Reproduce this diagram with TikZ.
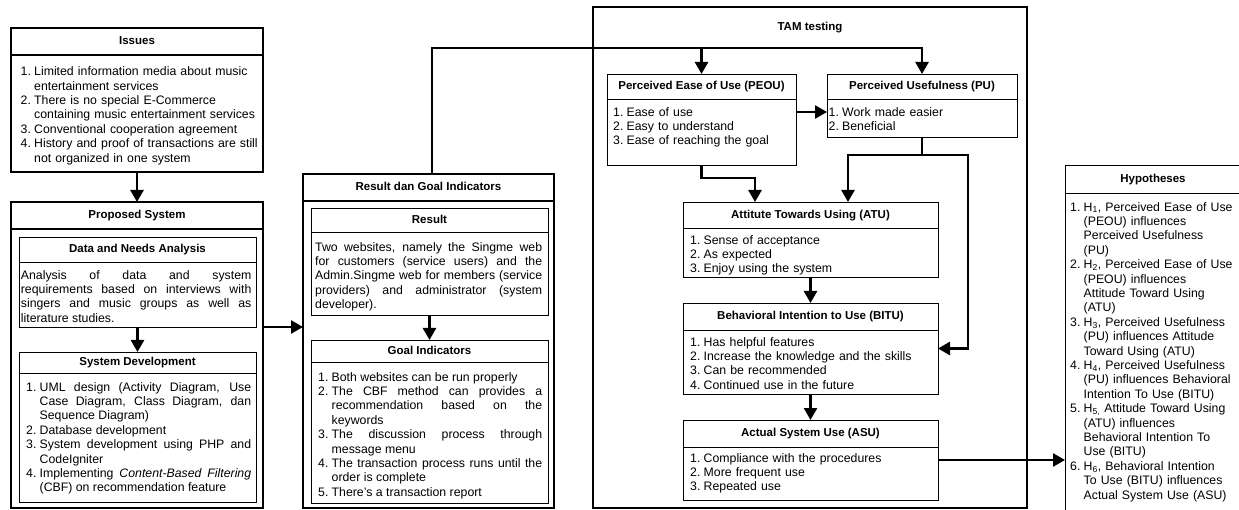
\documentclass[tikz,border=0pt]{standalone}
\usepackage{fontspec}
\setmainfont{Liberation Sans}
\usepackage{tikz}
\usetikzlibrary{arrows.meta}
\hyphenpenalty=10000
\exhyphenpenalty=10000
\newcommand{\numitem}[1]{\hangindent=13.5pt\hangafter=1\noindent\makebox[13.5pt][l]{#1}}
\tikzset{frame/.style={draw,line width=2.6pt,inner sep=0pt,outer sep=0pt,anchor=north west},
panel/.style={draw,line width=0.9pt,inner sep=0pt,outer sep=0pt,anchor=north west},
head/.style={font=\fontsize{11.5}{13}\selectfont\bfseries,inner sep=0pt,text height=8.5pt,text depth=2.2pt},
body/.style={font=\fontsize{12.3}{14.4}\selectfont,inner sep=0pt,anchor=north west},
flow/.style={line width=2.6pt,-{Triangle[length=12pt,width=13pt]}}}

\begin{document}
\begin{tikzpicture}[x=1pt,y=-1pt]
        \useasboundingbox (0,0) rectangle (1239,510);
        \clip (0,0) rectangle (1239,510);

        \node[frame,minimum width=252pt,minimum height=144pt] (iss)at (11,28) {};
        \node[frame,minimum width=252pt,minimum height=306pt] (prop)at (11,202) {};
        \node[frame,minimum width=251pt,minimum height=334pt] (res)at (303,174) {};
        \node[frame,minimum width=434pt,minimum height=501pt] (tam)at (593,7) {};
        \node[panel,minimum width=176pt,minimum height=360pt] (hyp)at (1065,165) {};

        \node[panel,minimum width=237pt,minimum height=90pt] (dna)at (19,237) {};
        \node[panel,minimum width=237pt,minimum height=150pt] (sd)at (19,352) {};
        \node[panel,minimum width=237pt,minimum height=107pt] (rs)at (311,208) {};
        \node[panel,minimum width=237pt,minimum height=163pt] (gi)at (311,340) {};
        \node[panel,minimum width=189pt,minimum height=91pt] (peou)at (607,74) {};
        \node[panel,minimum width=190pt,minimum height=63pt] (pu)at (827,74) {};
        \node[panel,minimum width=255pt,minimum height=75pt] (atu)at (683,202) {};
        \node[panel,minimum width=255pt,minimum height=91pt] (bitu)at (683,303) {};
        \node[panel,minimum width=255pt,minimum height=80pt] (asu)at (683,420) {};

        \foreach \n/\d in {iss/27pt,prop/27pt,res/27pt}
            \draw[line width=2.6pt] ([yshift=-\d]\n.north west) -- ([yshift=-\d]\n.north east);
        \foreach \n/\d in {hyp/28pt,dna/25pt,sd/21pt,rs/24pt,gi/22pt,peou/25pt,pu/25pt,atu/26pt,bitu/27pt,asu/27pt}
            \draw[line width=0.9pt] ([yshift=-\d]\n.north west) -- ([yshift=-\d]\n.north east);

        \node[head] (issT)at (137,41.5) {Issues};
        \node[head] (propT)at (137,215.5) {Proposed System};
        \node[head] (resT)at (428.5,187.5) {Result dan Goal Indicators};
        \node[head] (tamT)at (810,27) {TAM testing};
        \node[head] (hypT)at (1153,179) {Hypotheses};
        \node[head] (dnaT)at (137.5,249.5) {Data and Needs Analysis};
        \node[head] (sdT)at (137.5,362.5) {System Development};
        \node[head] (rsT)at (429.5,220) {Result};
        \node[head] (giT)at (429.5,351) {Goal Indicators};
        \node[head] (peouT)at (701.5,86.5) {Perceived Ease of Use (PEOU)};
        \node[head] (puT)at (922,86.5) {Perceived Usefulness (PU)};
        \node[head] (atuT)at (810.5,215) {Attitute Towards Using (ATU)};
        \node[head] (bituT)at (810.5,316.5) {Behavioral Intention to Use (BITU)};
        \node[head] (asuT)at (810.5,433.5) {Actual System Use (ASU)};

        \node[body,text width=240pt,align=left] (issL)at (20.5,66.5) {\numitem{1.}Limited information media about music\newline entertainment services\par
            \numitem{2.}There is no special E-Commerce\newline containing music entertainment services\par
            \numitem{3.}Conventional cooperation agreement\par
            \numitem{4.}History and proof of transactions are still\newline not organized in one system\par};
        \node[body,text width=230.5pt,align=justify] (dnaL)at (20.7,270) {Analysis of data and system\linebreak requirements based on interviews with\linebreak singers and music groups as well as\linebreak literature studies.};
        \node[body,text width=225pt,align=justify] (sdL)at (26,382) {\numitem{1.}UML design (Activity Diagram, Use\linebreak Case Diagram, Class Diagram, dan\linebreak Sequence Diagram)\par
            \numitem{2.}Database development\par
            \numitem{3.}System development using PHP and\linebreak CodeIgniter\par
            \numitem{4.}Implementing \textit{Content-Based Filtering}\linebreak (CBF) on recommendation feature\par};
        \node[body,text width=227pt,align=justify] (rsL)at (315,242) {Two websites, namely the Singme web\linebreak for customers (service users) and the\linebreak Admin.Singme web for members (service\linebreak providers) and administrator (system\linebreak developer).};
        \node[body,text width=224pt,align=justify] (giL)at (318,372) {\numitem{1.}Both websites can be run properly\par
            \numitem{2.}The CBF method can provides a\linebreak recommendation based on the\linebreak keywords\par
            \numitem{3.}The discussion process through\linebreak message menu\par
            \numitem{4.}The transaction process runs until the\linebreak order is complete\par
            \numitem{5.}There’s a transaction report\par};
        \node[body,text width=180pt,align=left] (peouL)at (613,107) {\numitem{1.}Ease of use\par
            \numitem{2.}Easy to understand\par
            \numitem{3.}Ease of reaching the goal\par};
        \node[body,text width=185pt,align=left] (puL)at (828.5,107) {\numitem{1.}Work made easier\par
            \numitem{2.}Beneficial\par};
        \node[body,text width=245pt,align=left] (atuL)at (690,235) {\numitem{1.}Sense of acceptance\par
            \numitem{2.}As expected\par
            \numitem{3.}Enjoy using the system\par};
        \node[body,text width=245pt,align=left] (bituL)at (690,337) {\numitem{1.}Has helpful features\par
            \numitem{2.}Increase the knowledge and the skills\par
            \numitem{3.}Can be recommended\par
            \numitem{4.}Continued use in the future\par};
        \node[body,text width=245pt,align=left] (asuL)at (690,453) {\numitem{1.}Compliance with the procedures\par
            \numitem{2.}More frequent use\par
            \numitem{3.}Repeated use\par};
        \node[body,text width=168pt,align=left] (hypL)at (1070,202) {\numitem{1.}H\textsubscript{1}, Perceived Ease of Use\newline (PEOU) influences\newline Perceived Usefulness\newline (PU)\par
            \numitem{2.}H\textsubscript{2}, Perceived Ease of Use\newline (PEOU) influences\newline Attitude Toward Using\newline (ATU)\par
            \numitem{3.}H\textsubscript{3}, Perceived Usefulness\newline (PU) influences Attitude\newline Toward Using (ATU)\par
            \numitem{4.}H\textsubscript{4}, Perceived Usefulness\newline (PU) influences Behavioral\newline Intention To Use (BITU)\par
            \numitem{5.}H\textsubscript{5,} Attitude Toward Using\newline (ATU) influences\newline Behavioral Intention To\newline Use (BITU)\par
            \numitem{6.}H\textsubscript{6}, Behavioral Intention\newline To Use (BITU) influences\newline Actual System Use (ASU)\par};

        \coordinate (bus) at (0,48);
        \draw [flow] (iss.south) to (prop.north);
        \draw [flow] (dna.south) to (sd.north);
        \draw [flow] (prop.east |- dna.south) to (res.west |- dna.south);
        \draw [flow] (rs.south) to (gi.north);
        \draw [flow] ([xshift=3.5pt]res.north) |- (pu.north |- bus) to (pu.north);
        \draw [flow] (peou.north |- bus) to (peou.north);
        \draw [flow] (peou.east |- 0,112) to (pu.west |- 0,112);
        \draw [flow] (peou.south) -- ++(0,13) -| ([xshift=-55.5pt]atu.north);
        \draw [line width=2.6pt] (pu.south) -- ++(0,18) coordinate (pusp);
        \draw [flow] (pusp) -| ([xshift=37.5pt]atu.north);
        \draw [flow] (pusp) -| ([xshift=30pt]bitu.east) to (bitu.east);
        \draw [flow] (atu.south) to (bitu.north);
        \draw [flow] (bitu.south) to (asu.north);
        \draw [flow] (asu.east) to (asu.east -| hyp.west);
\end{tikzpicture}
\end{document}
